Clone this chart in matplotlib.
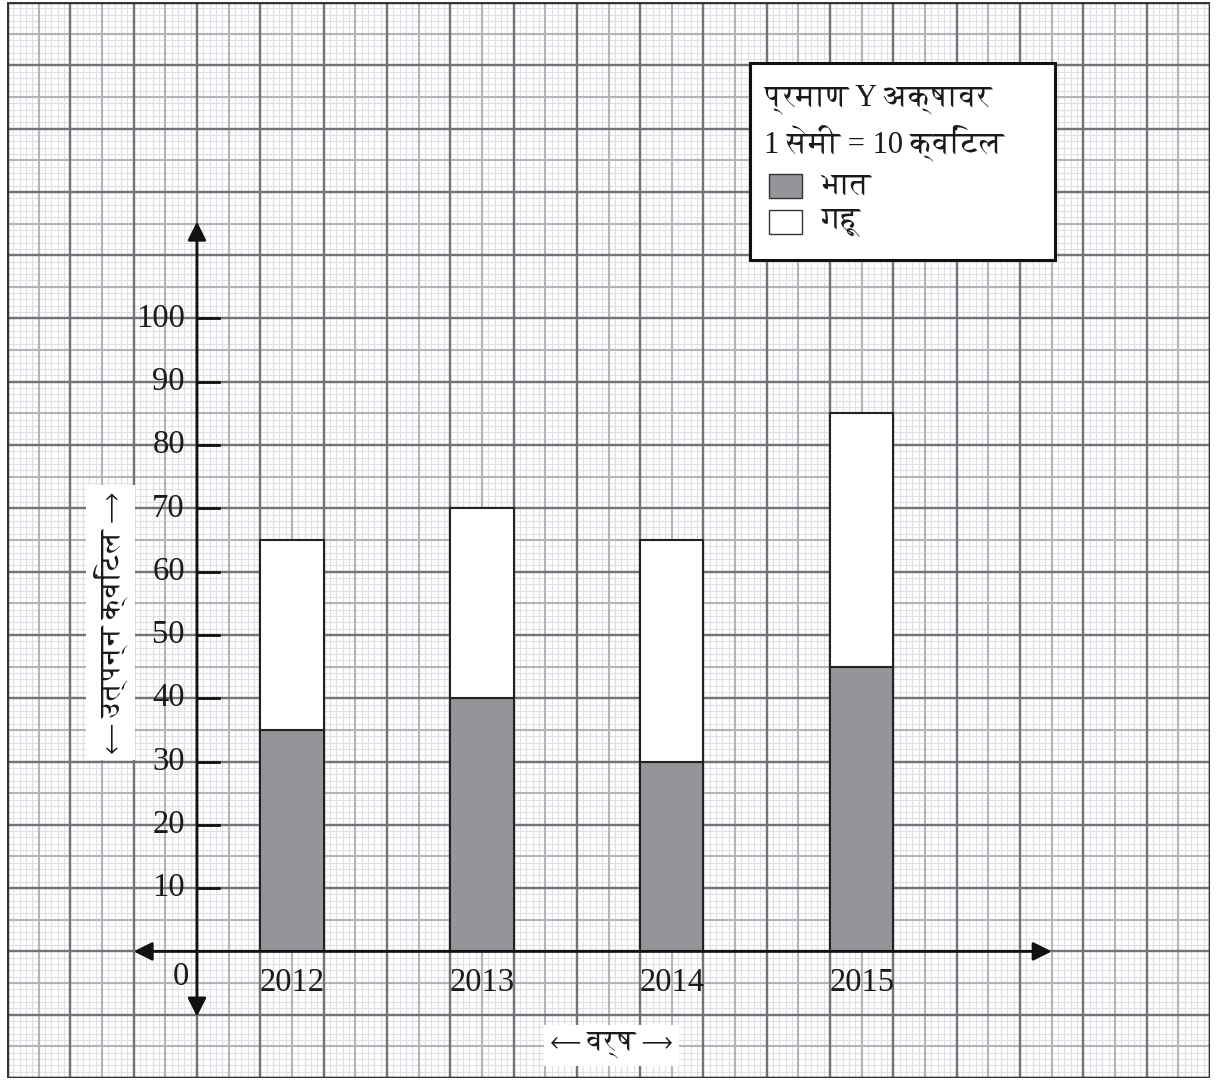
import matplotlib
matplotlib.use('Agg')
import matplotlib.pyplot as plt
from matplotlib import font_manager
from matplotlib.ft2font import FT2Font
from matplotlib.patches import Rectangle
from matplotlib.collections import LineCollection
import numpy as np

# ---------------- data ----------------
years = ['2012', '2013', '2014', '2015']
rice = [35, 40, 30, 45]      # भात
wheat = [30, 30, 35, 40]     # गहू
yticks = [10, 20, 30, 40, 50, 60, 70, 80, 90, 100]
legend_title1 = 'प्रमाण Y अक्षावर'
legend_title2 = '1 सेमी = 10 क्विंटल'
series_names = ['भात', 'गहू']
ylabel = '⟵ उत्पन्न क्विंटल ⟶'
xlabel = '⟵ वर्ष ⟶'


def find_deva():
    found = []
    for path in font_manager.findSystemFonts():
        try:
            f = FT2Font(path)
            cm = f.get_charmap()
            if 0x0915 in cm and 0x094D in cm:
                found.append(path)
        except Exception:
            continue
    if not found:
        return None
    found.sort(key=lambda p: (0 if 'erif' in p else 1, p))
    path = found[0]
    try:
        font_manager.fontManager.addfont(path)
        return font_manager.FontProperties(fname=path).get_name()
    except Exception:
        return None


deva = find_deva()
fam = ['Liberation Serif'] + ([deva] if deva else []) + ['DejaVu Sans']
plt.rcParams['font.family'] = fam

fig = plt.figure(figsize=(12.3, 10.8), dpi=100)
ax = fig.add_axes([7 / 1230, 2 / 1080, 1203 / 1230, 1076 / 1080])
ax.set_xlim(-30, 160)
ax.set_ylim(-20, 150)
ax.axis('off')
ax.set_facecolor('white')

# ---------------- graph paper ----------------
x0, x1, y0, y1 = -30, 160, -20, 150
def grid(step, color, lw, z):
    xs = np.arange(x0, x1 + 0.01, step)
    ys = np.arange(y0, y1 + 0.01, step)
    segs = [[(x, y0), (x, y1)] for x in xs] + [[(x0, y), (x1, y)] for y in ys]
    ax.add_collection(LineCollection(segs, colors=color, linewidths=lw, zorder=z))

grid(1, '#dde1e5', 0.8, 0)
grid(5, '#b3b4b8', 1.5, 0.1)
grid(10, '#727377', 1.7, 0.2)
ax.add_patch(Rectangle((x0, y0), x1 - x0, y1 - y0, fill=False,
                       edgecolor='#333333', lw=2.5, zorder=5))

# ---------------- bars ----------------
pos = [15 + 30 * i for i in range(len(years))]
ax.bar(pos, rice, width=10, color='#939598', edgecolor='#222222', lw=1.5, zorder=3)
ax.bar(pos, wheat, bottom=rice, width=10, color='white', edgecolor='#222222',
       lw=1.5, zorder=3)

# ---------------- axes with arrows ----------------
ap = dict(arrowstyle='<|-|>', mutation_scale=28, lw=2, color='#111111',
          shrinkA=0, shrinkB=0)
ax.annotate('', xy=(0, 115.3), xytext=(0, -10.3), arrowprops=ap, zorder=4)
ax.annotate('', xy=(135, 0), xytext=(-10, 0), arrowprops=ap, zorder=4)

for t in yticks:
    ax.plot([0, 3.5], [t, t], color='#111111', lw=2, zorder=4)
    ax.text(-1.9, t, str(t), ha='right', va='center', fontsize=23.5,
            color='#1a1a1a', zorder=4)
ax.text(-2.6, -4.0, '0', ha='center', va='center', fontsize=23.5, color='#1a1a1a')
for p, yr in zip(pos, years):
    ax.text(p, -4.9, yr, ha='center', va='center', fontsize=23.5, color='#1a1a1a')

# ---------------- axis labels ----------------
ax.text(-13.6, 52, ylabel, rotation=90, ha='center', va='center', fontsize=21,
        color='#1a1a1a', zorder=6,
        bbox=dict(facecolor='white', edgecolor='none', boxstyle='square,pad=0.25'))
ax.text(65.5, -14.8, xlabel, ha='center', va='center', fontsize=21,
        color='#1a1a1a', zorder=6,
        bbox=dict(facecolor='white', edgecolor='none', boxstyle='square,pad=0.25'))

# ---------------- legend box ----------------
ax.add_patch(Rectangle((87.4, 109.2), 48.1, 31.1, facecolor='white',
                       edgecolor='#111111', lw=2.2, zorder=6))
ax.text(89.6, 134.6, legend_title1, ha='left', va='center', fontsize=22,
        color='#1a1a1a', zorder=7)
ax.text(89.6, 127.8, legend_title2, ha='left', va='center', fontsize=22,
        color='#1a1a1a', zorder=7)
ax.add_patch(Rectangle((90.4, 119.0), 5.2, 3.8, facecolor='#939598',
                       edgecolor='#333333', lw=1, zorder=7))
ax.add_patch(Rectangle((90.4, 113.4), 5.2, 3.8, facecolor='white',
                       edgecolor='#333333', lw=1, zorder=7))
ax.text(98.6, 120.9, series_names[0], ha='left', va='center', fontsize=22,
        color='#1a1a1a', zorder=7)
ax.text(98.6, 115.2, series_names[1], ha='left', va='center', fontsize=22,
        color='#1a1a1a', zorder=7)

fig.savefig('out.png', dpi=100, facecolor='white')
